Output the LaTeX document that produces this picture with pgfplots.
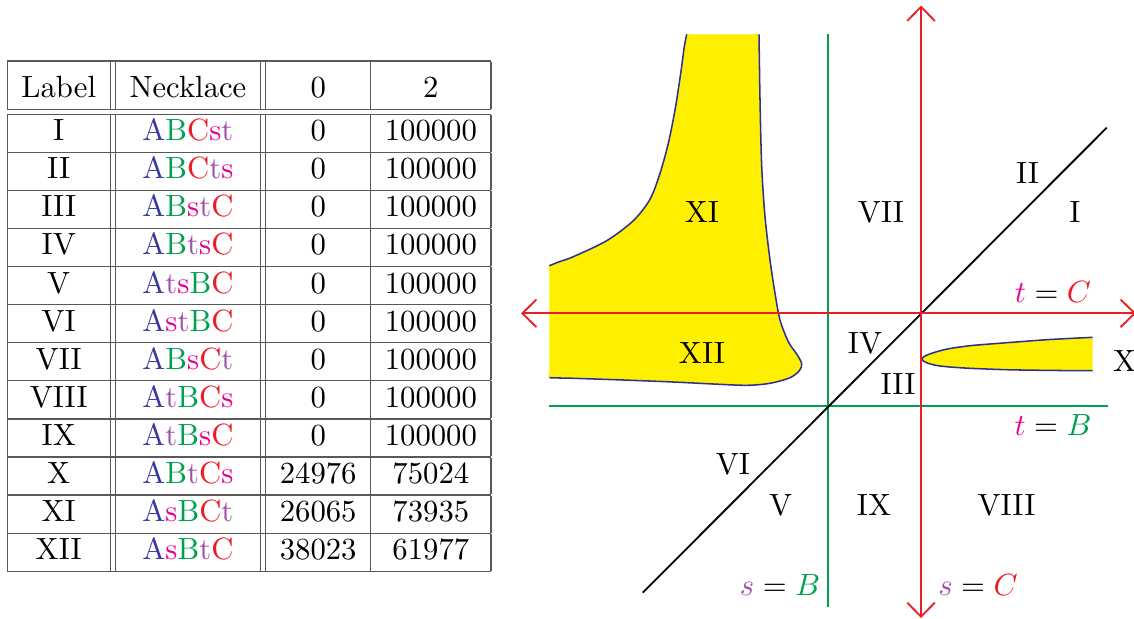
\documentclass[border=0pt]{standalone}
\usepackage{pgfplots}
\pgfplotsset{compat=1.18}
\usetikzlibrary{arrows.meta}
\usepackage{xcolor}

\definecolor{cA}{RGB}{56,56,160}
\definecolor{cB}{RGB}{0,160,80}
\definecolor{cC}{RGB}{237,28,36}
\definecolor{cpink}{RGB}{232,0,140}
\definecolor{cpurple}{RGB}{160,80,170}
\definecolor{fillyel}{RGB}{255,240,0}
\definecolor{edge}{RGB}{46,49,146}

\newcommand\nA{\textcolor{cA}{A}}
\newcommand\nB{\textcolor{cB}{B}}
\newcommand\nC{\textcolor{cC}{C}}
\newcommand\ns{\textcolor{cpink}{s}}
\newcommand\nt{\textcolor{cpurple}{t}}
% one table row, text in black, rules stay grey
\newcommand\R[4]{\textcolor{black}{#1} & #2 & \textcolor{black}{#3} & \textcolor{black}{#4}\\ \hline}

\setlength\tabcolsep{4.6pt}
\setlength\doublerulesep{1.7pt}

\tikzset{barb/.style={line width=0.6pt,
  {Straight Barb[length=4.6pt,width=9pt]}-{Straight Barb[length=4.6pt,width=9pt]}}}

\begin{document}
\begin{tikzpicture}[x=0.3257pt,y=-0.3257pt]
\begin{axis}[
    at={(0,0)}, anchor=north west,
    x=0.3257pt, y=0.3257pt, y dir=reverse,
    xmin=0, xmax=1134, ymin=0, ymax=619,
    hide axis, clip=false,
]
% table of necklaces
\node[anchor=north west, inner sep=0pt] at (axis cs:6.7,59.7) {%
\color{black!65}%
\begin{tabular}{|c||c||c|c|}
\hline
\rule{0pt}{11.7pt}\textcolor{black}{Label} & \textcolor{black}{Necklace} & \textcolor{black}{0} & \textcolor{black}{2}\\
\hline\hline
\R{I}{\nA\nB\nC\ns\nt}{0}{100000}
\R{II}{\nA\nB\nC\nt\ns}{0}{100000}
\R{III}{\nA\nB\ns\nt\nC}{0}{100000}
\R{IV}{\nA\nB\nt\ns\nC}{0}{100000}
\R{V}{\nA\nt\ns\nB\nC}{0}{100000}
\R{VI}{\nA\ns\nt\nB\nC}{0}{100000}
\R{VII}{\nA\nB\ns\nC\nt}{0}{100000}
\R{VIII}{\nA\nt\nB\nC\ns}{0}{100000}
\R{IX}{\nA\nt\nB\ns\nC}{0}{100000}
\R{X}{\nA\nB\nt\nC\ns}{24976}{75024}
\R{XI}{\nA\ns\nB\nC\nt}{26065}{73935}
\R{XII}{\nA\ns\nB\nt\nC}{38023}{61977}
\end{tabular}};

% yellow region XI / XII
\addplot[fill=fillyel, draw=none, smooth] coordinates {
 (549.3,372) (549.3,377.7) (560,378) (573.3,378.3) (623.3,380) (673.3,382)
 (713.3,384) (746.7,385.3) (770,383.3) (790,377.7) (799.3,370.7) (801.7,364)
 (797.3,355) (788.3,341.7) (780,320) (775,293.3) (770,260) (765,216.7)
 (761.7,166.7) (760,100) (759.1,45) (759,34.3) (750,34.3) (695,34.3)
 (686.7,34.3) (686,40) (684.3,46.7) (680.7,73.3) (675,110) (668.3,143.3)
 (660,173.3) (650,199.3) (633.3,220.7) (606.7,240.7) (573.3,256.7)
 (560,261.5) (549.3,265.7) (549.3,271)};
\addplot[edge, line width=0.5pt, smooth] coordinates {
 (549.3,265.7) (560,261.5) (573.3,256.7) (606.7,240.7) (633.3,220.7)
 (650,199.3) (660,173.3) (668.3,143.3) (675,110) (680.7,73.3) (684.3,46.7)
 (686.7,34.3)};
\addplot[edge, line width=0.5pt, smooth] coordinates {
 (759,34.3) (760,100) (761.7,166.7) (765,216.7) (770,260) (775,293.3)
 (780,320) (788.3,341.7) (797.3,355) (801.7,364) (799.3,370.7) (790,377.7)
 (770,383.3) (746.7,385.3) (713.3,384) (673.3,382) (623.3,380) (573.3,378.3)
 (560,378) (549.3,377.7)};

% yellow region X
\addplot[fill=fillyel, draw=edge, line width=0.5pt, smooth] coordinates {
 (1092.7,337.3) (1050,339.5) (1020,341.7) (990,344) (970,345.7) (950,348.5)
 (936.7,351.7) (926,355.5) (921.7,359) (926,362.5) (936.7,365.5) (950,367)
 (970,368.3) (1000,369.5) (1020,370) (1060,370.5) (1092.7,370.7)};

% lines s = B, t = B, s = t, s = C, t = C
\addplot[cB, line width=0.6pt] coordinates {(828.3,34) (828.3,607)};
\addplot[cB, line width=0.6pt] coordinates {(549,406) (1108,406)};
\addplot[black, line width=0.6pt] coordinates {(642.7,592.7) (1106.7,127.7)};
\addplot[cC, barb] coordinates {(921,5.5) (921,618)};
\addplot[cC, barb] coordinates {(521,313.3) (1136,313.3)};

% region labels
\node at (axis cs:702,212) {XI};
\node at (axis cs:881,212) {VII};
\node at (axis cs:1027.5,173) {II};
\node at (axis cs:1075,212) {I};
\node at (axis cs:702,353) {XII};
\node at (axis cs:865,343) {IV};
\node at (axis cs:898,384) {III};
\node at (axis cs:1124.5,361) {X};
\node at (axis cs:733,464) {VI};
\node at (axis cs:780.5,505) {V};
\node at (axis cs:874,505) {IX};
\node at (axis cs:1006.5,505) {VIII};
\node at (axis cs:1053,292) {$\textcolor{cpink}{t}=\textcolor{cC}{C}$};
\node at (axis cs:1053,425) {$\textcolor{cpink}{t}=\textcolor{cB}{B}$};
\node at (axis cs:780,585) {$\textcolor{cpurple}{s}=\textcolor{cB}{B}$};
\node at (axis cs:978,585) {$\textcolor{cpurple}{s}=\textcolor{cC}{C}$};
\end{axis}
\pgfresetboundingbox
\path (0,0) rectangle (1134,619);
\end{tikzpicture}
\end{document}
